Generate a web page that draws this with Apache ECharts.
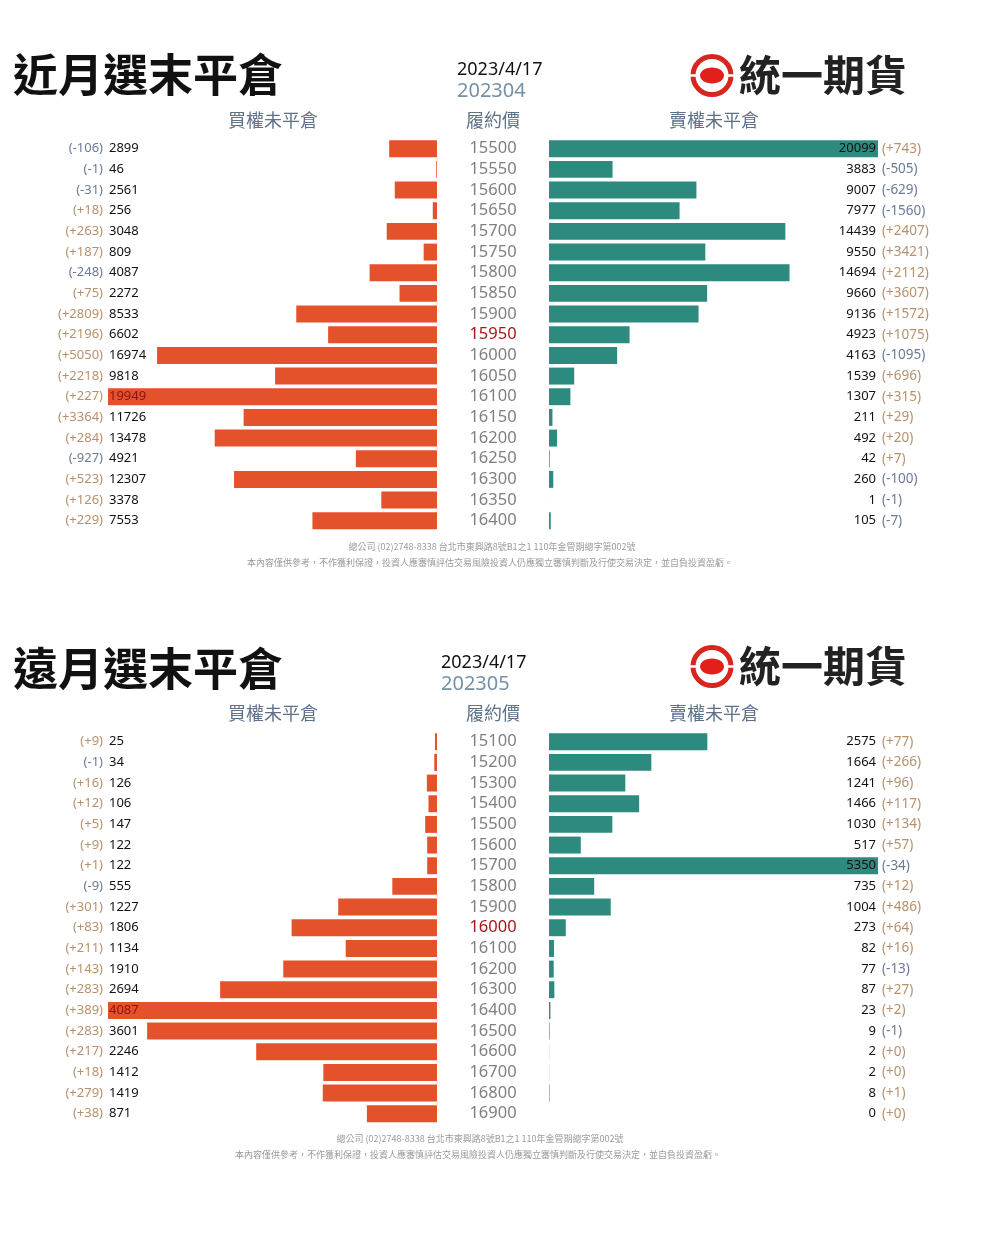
<!DOCTYPE html>
<html>
<head>
<meta charset="utf-8">
<script src="https://cdn.jsdelivr.net/npm/echarts@6/dist/echarts.min.js"></script>
<style>
html,body{margin:0;padding:0;background:#fff;}
#chart{width:987px;height:1255px;}
</style>
</head>
<body>
<div id="chart"></div>
<script>
// ---------- DATA ----------
const title1 = '近月選末平倉';
const date1 = '2023/4/17';
const month1 = '202304';
const strikes1 = [15500,15550,15600,15650,15700,15750,15800,15850,15900,15950,16000,16050,16100,16150,16200,16250,16300,16350,16400];
const atm1 = 15950;
const call1 = [2899,46,2561,256,3048,809,4087,2272,8533,6602,16974,9818,19949,11726,13478,4921,12307,3378,7553];
const callChg1 = [-106,-1,-31,18,263,187,-248,75,2809,2196,5050,2218,227,3364,284,-927,523,126,229];
const put1 = [20099,3883,9007,7977,14439,9550,14694,9660,9136,4923,4163,1539,1307,211,492,42,260,1,105];
const putChg1 = [743,-505,-629,-1560,2407,3421,2112,3607,1572,1075,-1095,696,315,29,20,7,-100,-1,-7];

const title2 = '遠月選末平倉';
const date2 = '2023/4/17';
const month2 = '202305';
const strikes2 = [15100,15200,15300,15400,15500,15600,15700,15800,15900,16000,16100,16200,16300,16400,16500,16600,16700,16800,16900];
const atm2 = 16000;
const call2 = [25,34,126,106,147,122,122,555,1227,1806,1134,1910,2694,4087,3601,2246,1412,1419,871];
const callChg2 = [9,-1,16,12,5,9,1,-9,301,83,211,143,283,389,283,217,18,279,38];
const put2 = [2575,1664,1241,1466,1030,517,5350,735,1004,273,82,77,87,23,9,2,2,8,0];
const putChg2 = [77,266,96,117,134,57,-34,12,486,64,16,-13,27,2,-1,0,0,1,0];

const headerCall = '買權未平倉';
const headerStrike = '履約價';
const headerPut = '賣權未平倉';
const logoText = '統一期貨';
const footer1 = '總公司 (02)2748-8338 台北市東興路8號B1之1 110年金管期總字第002號';
const footer2 = '本內容僅供參考，不作獲利保證，投資人應審慎評估交易風險投資人仍應獨立審慎判斷及行使交易決定，並自負投資盈虧。';

// ---------- STYLE ----------
const CJK = '"Noto Sans CJK TC","Noto Sans CJK SC",sans-serif';
const NUM = '"Noto Sans","Open Sans",sans-serif';
const C_CALL = '#E4522C';
const C_PUT = '#2D8A7F';
const C_POS = '#B8916C';
const C_NEG = '#6B7A98';
const C_STRIKE = '#808080';
const C_ATM = '#A31818';
const C_MAXCALL = '#8B1414';
const C_HEAD = '#5E7189';

const option = {
  animation: false,
  backgroundColor: '#ffffff',
  grid: [], xAxis: [], yAxis: [], series: [],
  graphic: { elements: [] }
};

function chgText(v){ return v >= 0 ? '(+' + v + ')' : '(' + v + ')'; }

function addPanel(k, p){
  const dy = k === 0 ? 0 : 593;
  const top = 138.4 + dy, h = 392.67;
  const gL = option.grid.length, gR = gL + 1;
  option.grid.push({left:108, width:329, top:top, height:h});
  option.grid.push({left:549, width:329, top:top, height:h});
  const cats = p.strikes.map(String);
  const maxCall = Math.max.apply(null, p.call);
  const maxPut = Math.max.apply(null, p.put);
  const xL = option.xAxis.length;
  option.xAxis.push({gridIndex:gL, type:'value', inverse:true, min:0, max:maxCall, show:false});
  option.xAxis.push({gridIndex:gR, type:'value', min:0, max:maxPut, show:false});
  const base = (grid, pos, label) => ({
    gridIndex:grid, type:'category', data:cats, inverse:true, position:pos, z:10,
    axisLine:{show:false, onZero:false}, axisTick:{show:false}, splitLine:{show:false},
    axisLabel: Object.assign({interval:0}, label)
  });
  const idx = (v) => cats.indexOf(String(v));
  const yL = option.yAxis.length;
  // left grid: main (hidden), values, changes
  option.yAxis.push(base(gL, 'left', {show:false}));
  option.yAxis.push(base(gL, 'left', {
    align:'left', margin:-1, fontSize:13, fontFamily:NUM,
    formatter:(v)=>String(p.call[idx(v)]),
    color:(v)=> p.call[idx(v)] === maxCall ? C_MAXCALL : '#111111'
  }));
  option.yAxis.push(base(gL, 'left', {
    align:'right', margin:5, fontSize:13, fontFamily:NUM,
    formatter:(v)=>chgText(p.callChg[idx(v)]),
    color:(v)=> p.callChg[idx(v)] >= 0 ? C_POS : C_NEG
  }));
  // right grid: strikes (main), values, changes
  const yR = option.yAxis.length;
  option.yAxis.push(base(gR, 'left', {
    align:'center', margin:56, fontSize:16.5, fontFamily:NUM,
    color:(v)=> Number(v) === p.atm ? C_ATM : C_STRIKE
  }));
  option.yAxis.push(base(gR, 'right', {
    align:'right', margin:-2, fontSize:13, fontFamily:NUM,
    formatter:(v)=>String(p.put[idx(v)]), color:'#111111'
  }));
  option.yAxis.push(base(gR, 'right', {
    align:'left', margin:4, fontSize:13.5, fontFamily:NUM,
    formatter:(v)=>chgText(p.putChg[idx(v)]),
    color:(v)=> p.putChg[idx(v)] >= 0 ? C_POS : C_NEG
  }));
  option.series.push({type:'bar', xAxisIndex:xL, yAxisIndex:yL, data:p.call,
    barCategoryGap:'18%', itemStyle:{color:C_CALL}, silent:true});
  option.series.push({type:'bar', xAxisIndex:xL+1, yAxisIndex:yR, data:p.put,
    barCategoryGap:'18%', itemStyle:{color:C_PUT}, silent:true});

  // texts
  const G = option.graphic.elements;
  const dateX = k === 0 ? 457 : 441;
  G.push({type:'text', left:13, top:52 + dy - (k===1?-1:0), style:{text:p.title, font:'bold 45px ' + CJK, fill:'#111'}});
  G.push({type:'text', x:dateX, y:70 + dy, style:{text:p.date, font:'18px ' + NUM, fill:'#111', align:'left', verticalAlign:'middle'}});
  G.push({type:'text', x:dateX, y:91 + dy, style:{text:p.month, font:'20px ' + NUM, fill:'#7591A4', align:'left', verticalAlign:'middle'}});
  G.push({type:'text', x:273, y:120 + dy, style:{text:headerCall, font:'18px ' + CJK, fill:C_HEAD, align:'center', verticalAlign:'middle'}});
  G.push({type:'text', x:493, y:120 + dy, style:{text:headerStrike, font:'18px ' + CJK, fill:C_HEAD, align:'center', verticalAlign:'middle'}});
  G.push({type:'text', x:714, y:120 + dy, style:{text:headerPut, font:'18px ' + CJK, fill:C_HEAD, align:'center', verticalAlign:'middle'}});
  // logo
  const cx = 712, cy = 75.5 + dy - (k===1?2:0);
  G.push({type:'circle', shape:{cx:cx, cy:cy, r:19}, style:{fill:'#fff', stroke:'#D8261E', lineWidth:5}});
  G.push({type:'rect', shape:{x:cx-24, y:cy-1.2, width:48, height:2.4}, style:{fill:'#fff'}});
  G.push({type:'ellipse', shape:{cx:cx, cy:cy, rx:12, ry:8}, style:{fill:'#E21F1A'}});
  G.push({type:'text', x:739, y:cy, style:{text:logoText, font:'bold 42px ' + CJK, fill:'#222', align:'left', verticalAlign:'middle'}});
  // footer
  const fx1 = k === 0 ? 492 : 480, fx2 = k === 0 ? 490 : 478;
  const fy = k === 0 ? 547 : 1139;
  G.push({type:'text', x:fx1, y:fy, style:{text:footer1, font:'9px ' + CJK, fill:'#9a9a9a', align:'center', verticalAlign:'middle'}});
  G.push({type:'text', x:fx2, y:fy + 16, style:{text:footer2, font:'9px ' + CJK, fill:'#9a9a9a', align:'center', verticalAlign:'middle'}});
}

addPanel(0, {title:title1, date:date1, month:month1, strikes:strikes1, atm:atm1, call:call1, callChg:callChg1, put:put1, putChg:putChg1});
addPanel(1, {title:title2, date:date2, month:month2, strikes:strikes2, atm:atm2, call:call2, callChg:callChg2, put:put2, putChg:putChg2});

const chart = echarts.init(document.getElementById('chart'), null, {renderer:'canvas'});
chart.setOption(option);
</script>
</body>
</html>
